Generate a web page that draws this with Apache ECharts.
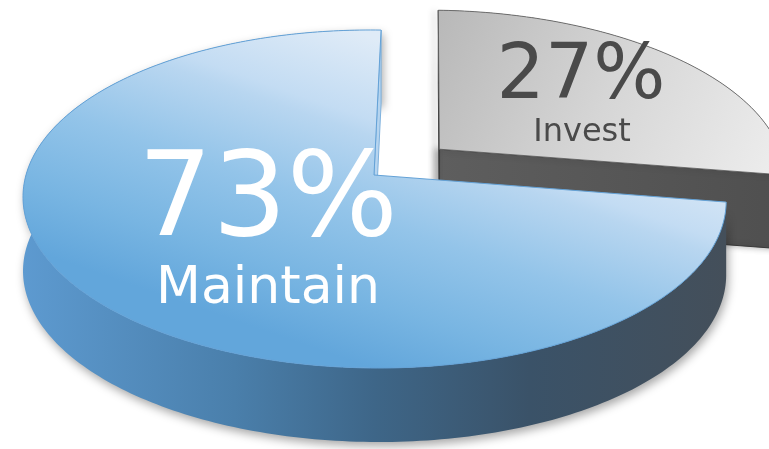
<!DOCTYPE html>
<html><head><meta charset="utf-8">
<script src="https://cdn.jsdelivr.net/npm/echarts@6/dist/echarts.min.js"></script>
<style>html,body{margin:0;padding:0;background:#fff}#c{width:769px;height:449px}</style>
</head><body><div id="c"></div>
<script>
// ---- data ----
const categories = ['Maintain', 'Invest'];
const values = [73, 27];

// ---- layout / style (not data) ----
const START_ANGLE = 2;            // deg clockwise from 12 o'clock; slices run counter-clockwise
const CX = 374, CY = 175;         // projected pie centre
const BX = 348, BY = 165.6, SX = 4.1, PERSP = -0.142, DEPTH = 74;
const EXPLODE = [0, 0.251];
const LABELS = [
  { pct: [268, 205, 117, '#ffffff'], name: [268, 289, 52, '#ffffff'] },
  { pct: [581, 78, 76, '#4a4a4a'], name: [582, 133, 32, '#4a4a4a'] }
];
const G = echarts.graphic;
const STYLES = [
  {
    top: new G.LinearGradient(370, 37, 268, 332, [
      { offset: 0, color: '#dfebf7' }, { offset: 0.25, color: '#c3dcf3' },
      { offset: 0.3, color: '#b8d6f0' }, { offset: 0.55, color: '#93c4e9' },
      { offset: 0.8, color: '#78b5e2' }, { offset: 1, color: '#62a6db' }], true),
    topStroke: '#64a2d7',
    side: new G.LinearGradient(0, 0, 1, 0, [
      { offset: 0, color: '#5d9ad0' }, { offset: 0.3, color: '#4a7fab' },
      { offset: 0.5, color: '#3e6688' }, { offset: 0.72, color: '#3a5268' },
      { offset: 1, color: '#444f5a' }]),
    cut: '#b5d4ef'
  },
  {
    top: new G.LinearGradient(0, 0, 1, 1, [
      { offset: 0, color: '#b8b8b8' }, { offset: 0.5, color: '#d6d6d6' },
      { offset: 1, color: '#eeeeee' }]),
    topStroke: '#5a5a5a',
    side: '#4a4a4a',
    cut: new G.LinearGradient(0, 0, 1, 0, [
      { offset: 0, color: '#5e5e5e' }, { offset: 1, color: '#4f4f4f' }])
  }
];

const total = values.reduce((a, b) => a + b, 0);

function proj(X, Z) {
  const w = 1 + PERSP * Z;
  return [CX + (BX * X + SX * Z) / w, CY + BY * Z / w];
}

function renderItem(params, api) {
  const i = params.dataIndex;
  const v = api.value(1);
  let before = 0;
  for (let k = 0; k < i; k++) before += values[k];
  const b = START_ANGLE - 360 * before / total;
  const a = b - 360 * v / total;
  const mid = (a + b) / 2 * Math.PI / 180;
  const e = EXPLODE[i];
  const ox = e * Math.sin(mid), oz = -e * Math.cos(mid);
  const rim = [];
  const n = Math.max(8, Math.round((b - a)));
  for (let s = 0; s <= n; s++) {
    const t = (a + (b - a) * s / n) * Math.PI / 180;
    rim.push(proj(Math.sin(t) + ox, -Math.cos(t) + oz));
  }
  const vtx = proj(ox, oz);
  const down = p => [p[0], p[1] + DEPTH];
  const st = STYLES[i];
  const base = i === 1 ? 1 : 10;
  const children = [];
  // outer side band
  children.push({
    type: 'polygon', z2: base,
    shape: { points: rim.concat(rim.slice().reverse().map(down)) },
    style: i === 0
      ? { fill: st.side, shadowBlur: 10, shadowColor: 'rgba(0,0,0,0.35)', shadowOffsetY: 4, shadowOffsetX: 2 }
      : { fill: st.side }
  });
  // cut faces
  const pA = rim[0], pB = rim[rim.length - 1];
  if (i === 1) {
    [pB, pA].forEach((p, j) => {
      children.push({
        type: 'polygon', z2: base + 1 + j,
        shape: { points: [vtx, p, down(p), down(vtx)] },
        style: { fill: st.cut, stroke: '#3a3a3a', lineWidth: 1,
          shadowBlur: 6, shadowColor: 'rgba(0,0,0,0.3)', shadowOffsetX: -4 }
      });
    });
  } else {
    children.push({
      type: 'polygon', z2: base + 1,
      shape: { points: [vtx, pB, down(pB), down(vtx)] },
      style: { fill: st.cut, stroke: '#7fb2de', lineWidth: 1 }
    });
  }
  // top face
  children.push({
    type: 'polygon', z2: base + 4,
    shape: { points: [vtx].concat(rim) },
    style: { fill: st.top, stroke: st.topStroke, lineWidth: i === 1 ? 0.8 : 1 }
  });
  const L = LABELS[i];
  children.push({
    type: 'text', z2: 50,
    style: { text: Math.round(v / total * 100) + '%', x: L.pct[0], y: L.pct[1],
      fill: L.pct[3], font: L.pct[2] + 'px "DejaVu Sans"', align: 'center', verticalAlign: 'middle' }
  });
  children.push({
    type: 'text', z2: 50,
    style: { text: categories[i], x: L.name[0], y: L.name[1],
      fill: L.name[3], font: L.name[2] + 'px "DejaVu Sans"', align: 'center', verticalAlign: 'middle' }
  });
  return { type: 'group', children };
}

const chart = echarts.init(document.getElementById('c'), null, { renderer: 'canvas' });
chart.setOption({
  animation: false,
  backgroundColor: '#ffffff',
  series: [{
    type: 'custom',
    coordinateSystem: 'none',
    renderItem,
    data: values.map((v, i) => ({ name: categories[i], value: [i, v] }))
  }]
});
</script>
</body></html>
